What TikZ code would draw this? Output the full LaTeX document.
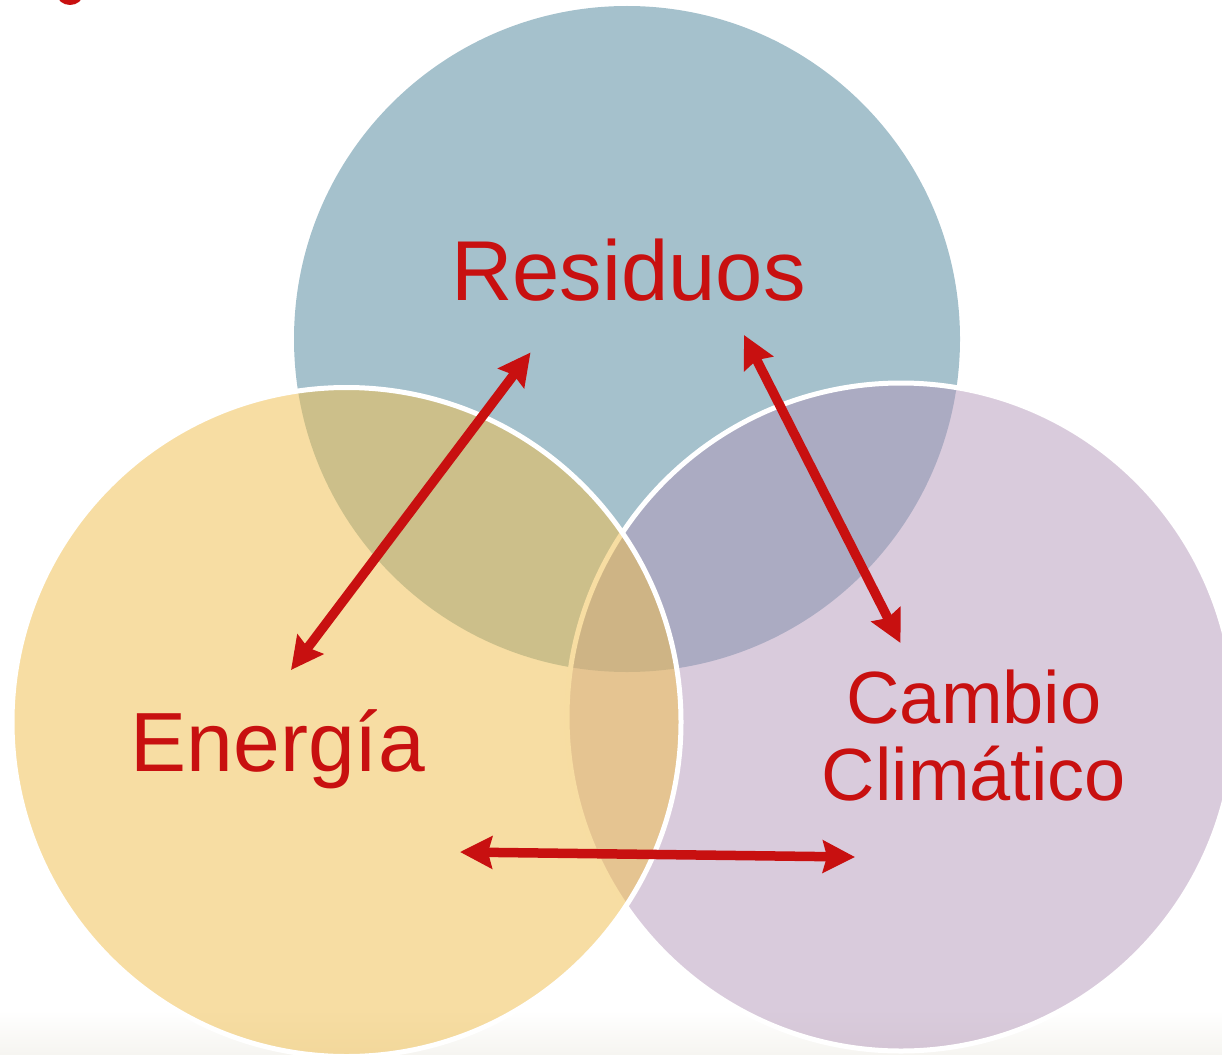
\documentclass[tikz,border=0pt]{standalone}
\usepackage{fontspec}
\setmainfont{Liberation Sans}
\usetikzlibrary{arrows.meta}
\definecolor{resblue}{RGB}{165,193,204}
\definecolor{enyellow}{RGB}{240,190,78}
\definecolor{climpurple}{RGB}{178,149,184}
\definecolor{linkred}{RGB}{200,16,16}
\definecolor{shadegray}{RGB}{246,245,241}
\begin{document}
\begin{tikzpicture}[x=1pt, y=-1pt,
  venn/.style={draw=white, line width=5pt},
  tagtext/.style={text=linkred, inner sep=0pt, anchor=base},
  bigtag/.style={tagtext, font=\fontsize{85}{85}\selectfont},
  biarrow/.style={draw=linkred, line width=9.5pt,
    {Stealth[length=32pt,width=32pt,inset=4pt]}-{Stealth[length=32pt,width=32pt,inset=4pt]}}]
\useasboundingbox (0,0) rectangle (1222,1054);
\shade[top color=white, bottom color=shadegray] (0,1010) rectangle (1222,1054);
\begin{scope}
\clip (0,0) rectangle (1222,1054);
\fill[linkred] (70,-6) ellipse [x radius=13, y radius=11];
% the three fields
\fill[resblue] (627,339) circle [radius=333];
\filldraw[venn, fill=climpurple, fill opacity=0.49] (901,717) circle [radius=334];
\filldraw[venn, fill=enyellow, fill opacity=0.52] (346.5,722) circle [radius=334.5];
\end{scope}
\node[bigtag] (res) at (628.5,300) {Residuos};
\node[bigtag, font=\fontsize{84}{84}\selectfont] (ene) at (277.7,771) {Energía};
\node[tagtext, font=\fontsize{74}{77}\selectfont, align=center] (cam) at (974,800) {Cambio\\Climático};
% arrow ends
\coordinate (ene-ne) at (291,670);
\coordinate (res-sw) at (530.5,352.5);
\coordinate (res-se) at (744,335);
\coordinate (cam-nw) at (900.5,643);
\coordinate (ene-e) at (460,852);
\coordinate (cam-w) at (855,857);
\draw[biarrow] (ene-ne) -- (res-sw);
\draw[biarrow] (res-se) -- (cam-nw);
\draw[biarrow] (ene-e) -- (cam-w);
\end{tikzpicture}
\end{document}
